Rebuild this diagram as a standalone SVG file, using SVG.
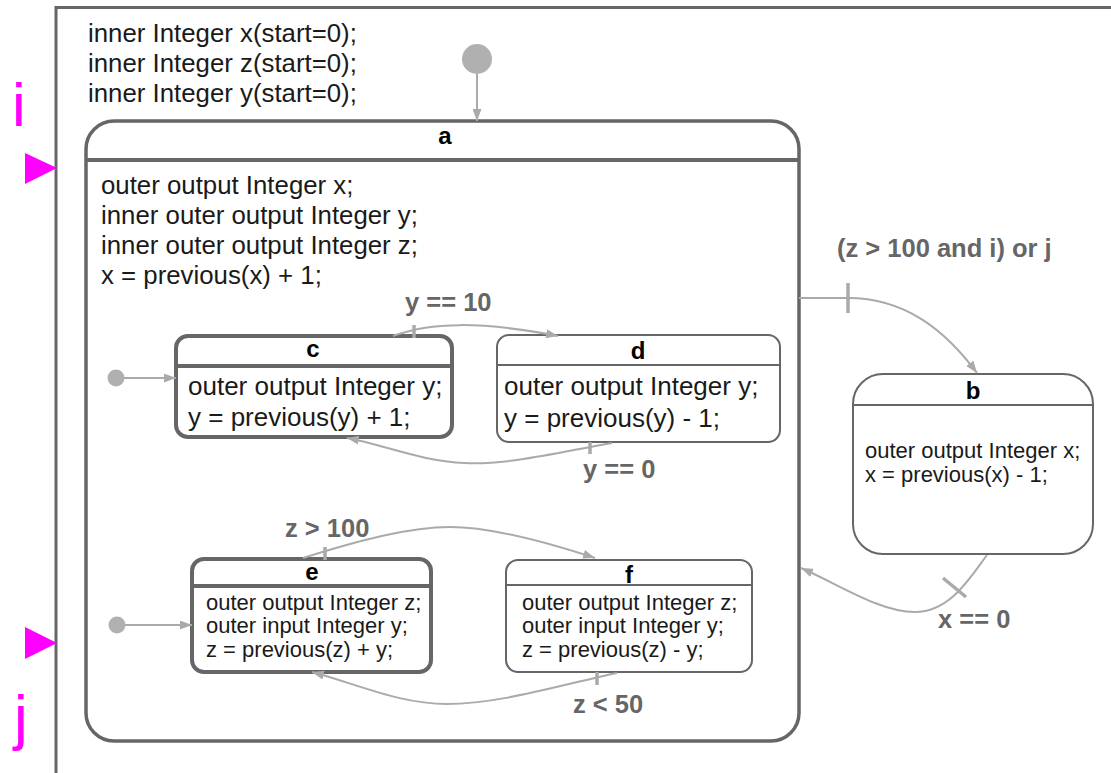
<svg xmlns="http://www.w3.org/2000/svg" width="1111" height="773" viewBox="0 0 1111 773">
<style>
text{font-family:"Liberation Sans",Arial,sans-serif;fill:#1a1a1a}
.big{font-size:25.8px}
.mid{font-size:26px}
.sm{font-size:22px}
.ttl{font-weight:bold;font-size:24px;text-anchor:middle;fill:#000}
.lbl{font-weight:bold;font-size:25.5px;fill:#666}
.mag{font-size:62px;fill:#ff00ff}
.st{fill:#fff;stroke:#666}
.thick{stroke-width:4}
.thin{stroke-width:2}
.tr{fill:none;stroke:#aaa;stroke-width:2}
.tick{stroke:#aaa;stroke-width:3.5}
.dot{fill:#b0b0b0}
</style>
<defs>
<marker id="ah" markerUnits="userSpaceOnUse" markerWidth="13" markerHeight="9" refX="12" refY="4.5" orient="auto">
<path d="M0,0 L12,4.5 L0,9 z" fill="#aaa"/>
</marker>
</defs>
<rect width="1111" height="773" fill="#fff"/>

<g id="frame">
<path d="M56,773 V7.5 H1111" fill="none" stroke="#666" stroke-width="3"/>
<text class="big" x="88" y="42">inner Integer x(start=0);</text>
<text class="big" x="88" y="72">inner Integer z(start=0);</text>
<text class="big" x="88" y="102">inner Integer y(start=0);</text>
</g>

<g id="input-i">
<text class="mag" x="12" y="126">i</text>
<path d="M25,153 L57,168 L25,184 z" fill="#ff00ff"/>
</g>
<g id="input-j">
<text class="mag" x="14" y="738">j</text>
<path d="M25,627 L57,643 L25,659 z" fill="#ff00ff"/>
</g>

<g id="state-a">
<rect class="st" x="86" y="121" width="713" height="620" rx="28" stroke-width="3.5"/>
<line x1="86" y1="160" x2="799" y2="160" stroke="#666" stroke-width="4"/>
<text class="ttl" x="445" y="144">a</text>
<text class="big" x="101" y="194">outer output Integer x;</text>
<text class="big" x="101" y="224">inner outer output Integer y;</text>
<text class="big" x="101" y="254">inner outer output Integer z;</text>
<text class="big" x="101" y="284">x = previous(x) + 1;</text>
</g>

<g id="state-c">
<rect class="st thick" x="176" y="336" width="276" height="101" rx="12"/>
<line x1="176" y1="366" x2="452" y2="366" stroke="#666" stroke-width="4"/>
<text class="ttl" x="313" y="357">c</text>
<text class="mid" x="188" y="395">outer output Integer y;</text>
<text class="mid" x="188" y="426">y = previous(y) + 1;</text>
</g>

<g id="state-d">
<rect class="st thin" x="497" y="335" width="283" height="107" rx="12"/>
<line x1="497" y1="365" x2="780" y2="365" stroke="#666" stroke-width="2"/>
<text class="ttl" x="638" y="359">d</text>
<text class="mid" x="504" y="395">outer output Integer y;</text>
<text class="mid" x="504" y="427">y = previous(y) - 1;</text>
</g>

<g id="state-e">
<rect class="st thick" x="192" y="559" width="239" height="113" rx="12"/>
<line x1="192" y1="586" x2="431" y2="586" stroke="#666" stroke-width="4"/>
<text class="ttl" x="312" y="580">e</text>
<text class="sm" x="206" y="610">outer output Integer z;</text>
<text class="sm" x="206" y="633">outer input Integer y;</text>
<text class="sm" x="206" y="657">z = previous(z) + y;</text>
</g>

<g id="state-f">
<rect class="st thin" x="506" y="560" width="246" height="112" rx="12"/>
<line x1="506" y1="585" x2="752" y2="585" stroke="#666" stroke-width="2"/>
<text class="ttl" x="629" y="583">f</text>
<text class="sm" x="522" y="610">outer output Integer z;</text>
<text class="sm" x="522" y="633">outer input Integer y;</text>
<text class="sm" x="522" y="657">z = previous(z) - y;</text>
</g>

<g id="state-b">
<rect class="st thin" x="853" y="374" width="240" height="180" rx="30"/>
<line x1="853" y1="405" x2="1093" y2="405" stroke="#666" stroke-width="2"/>
<text class="ttl" x="973" y="399">b</text>
<text class="sm" x="865" y="458">outer output Integer x;</text>
<text class="sm" x="865" y="482">x = previous(x) - 1;</text>
</g>

<g id="initial-states">
<circle class="dot" cx="477" cy="59" r="15"/>
<circle class="dot" cx="116" cy="378" r="8.5"/>
<circle class="dot" cx="117" cy="625" r="8.5"/>
</g>

<g id="connectors">
<path class="tr" d="M477,74 V121" marker-end="url(#ah)"/>
<path class="tr" d="M124,378 H176" marker-end="url(#ah)"/>
<path class="tr" d="M125,625 H192" marker-end="url(#ah)"/>

<path class="tr" d="M393,336 C430,322 480,321 558,336" marker-end="url(#ah)"/>
<line class="tick" x1="414" y1="325" x2="414" y2="338"/>
<text class="lbl" x="405" y="311">y == 10</text>

<path class="tr" d="M612,443 C560,452 510,465 465,463 C420,461 385,445 347,438" marker-end="url(#ah)"/>
<line class="tick" x1="590" y1="442" x2="590" y2="454"/>
<text class="lbl" x="583" y="478">y == 0</text>

<path class="tr" d="M303,558 C360,540 410,527 450,527 C490,527 540,540 595,558" marker-end="url(#ah)"/>
<line class="tick" x1="325" y1="547" x2="325" y2="560"/>
<text class="lbl" x="285" y="537">z &gt; 100</text>

<path class="tr" d="M617,673 C560,685 500,704 447,704 C400,704 360,685 312,672" marker-end="url(#ah)"/>
<line class="tick" x1="597" y1="672" x2="597" y2="685"/>
<text class="lbl" x="573" y="713">z &lt; 50</text>

<path class="tr" d="M799,298 H848 C905,298 945,330 977,373" marker-end="url(#ah)"/>
<line class="tick" x1="848" y1="283" x2="848" y2="313"/>
<text class="lbl" x="837" y="257">(z &gt; 100 and i) or j</text>

<path class="tr" d="M987,555 C970,578 950,612 915,612 C880,612 840,585 801,568" marker-end="url(#ah)"/>
<line class="tick" x1="943" y1="578" x2="966" y2="597"/>
<text class="lbl" x="938" y="628">x == 0</text>
</g>
</svg>
